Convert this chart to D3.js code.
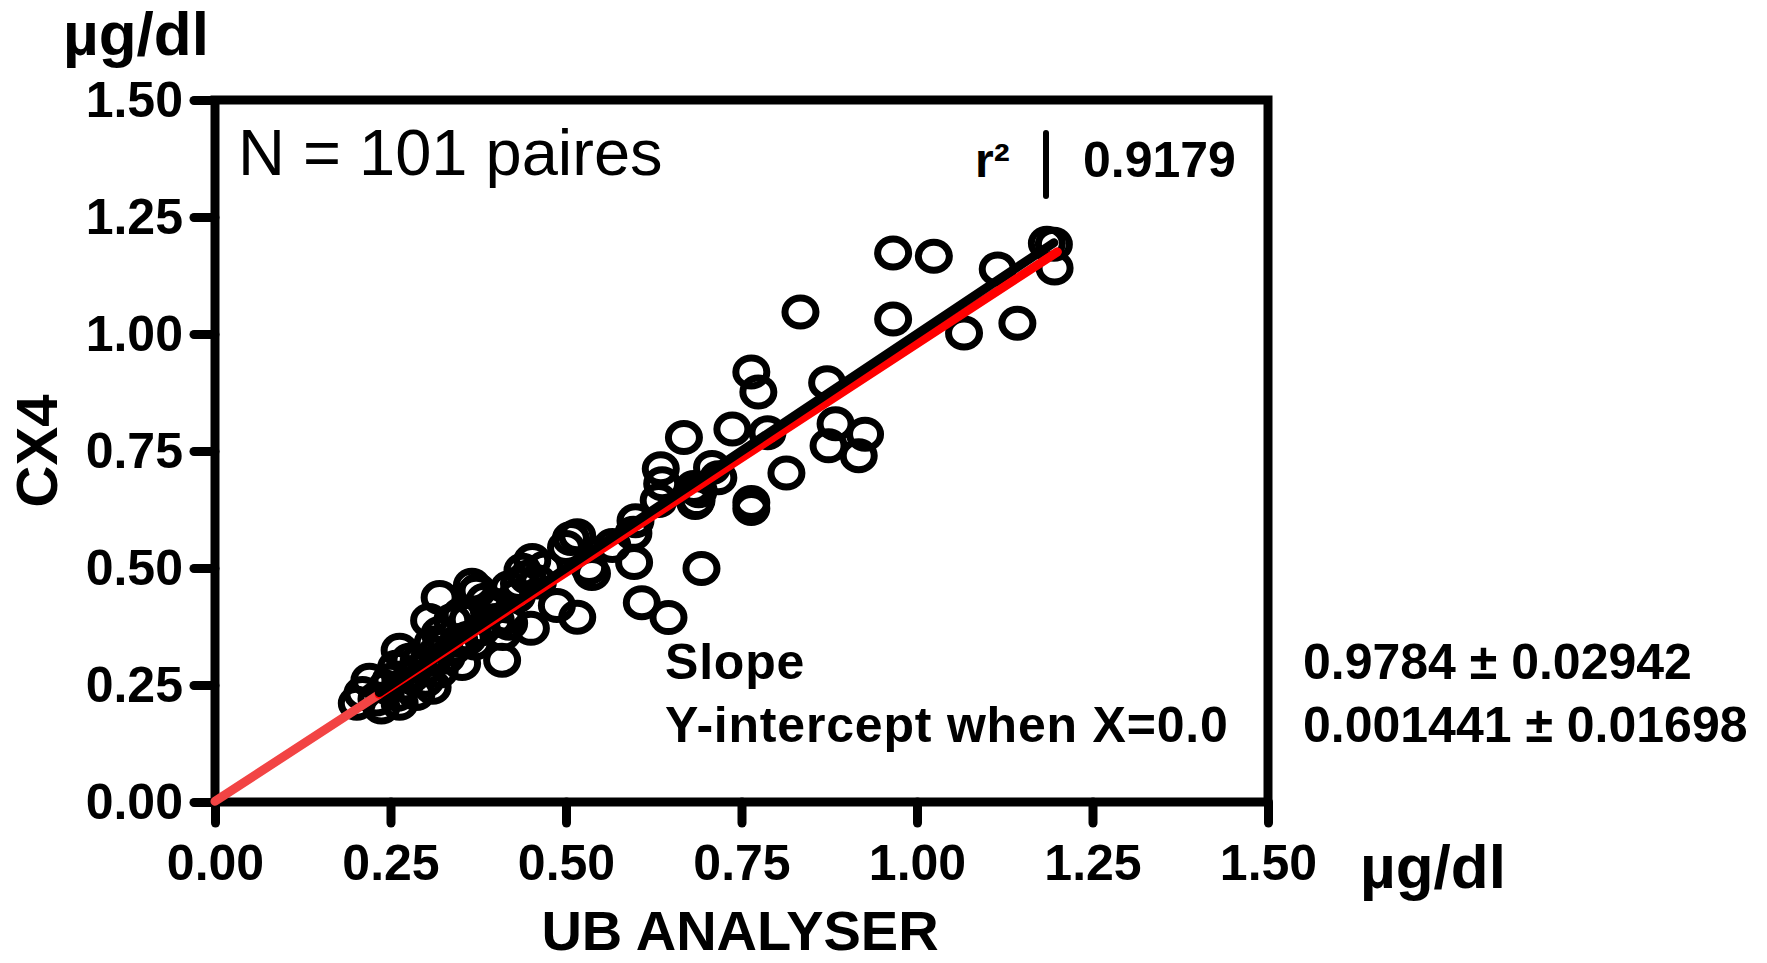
<!DOCTYPE html>
<html>
<head>
<meta charset="utf-8">
<script src="https://cdn.jsdelivr.net/npm/d3@7"></script>
<style>
  body { margin: 0; background: #fff; }
  svg { display: block; }
  text { font-family: "Liberation Sans", Arial, sans-serif; }
</style>
</head>
<body>
<div id="chart"></div>
<script>
// UB ANALYSER (x) vs CX4 (y), µg/dl - 101 paires
const ubAnalyser = [
  0.966, 1.024, 1.115, 1.195, 1.196, 1.185, 0.834, 0.966, 1.067, 1.143,
  0.764, 0.774, 0.872, 0.737, 0.787, 0.884, 0.874, 0.926, 0.917, 0.814,
  0.708, 0.717, 0.668, 0.682, 0.684, 0.764, 0.764, 0.693, 0.635, 0.637,
  0.632, 0.599, 0.596, 0.507, 0.516, 0.500, 0.566, 0.533, 0.597, 0.608,
  0.646, 0.452, 0.438, 0.419, 0.445, 0.487, 0.516, 0.450, 0.409, 0.419,
  0.537, 0.366, 0.374, 0.320, 0.384, 0.305, 0.400, 0.338, 0.320, 0.348,
  0.315, 0.352, 0.263, 0.277, 0.258, 0.220, 0.210, 0.202, 0.237, 0.263,
  0.287, 0.310, 0.244, 0.301, 0.415, 0.433, 0.686, 0.689, 0.230, 0.250,
  0.270, 0.280, 0.300, 0.290, 0.320, 0.330, 0.340, 0.360, 0.370, 0.380,
  0.350, 0.390, 0.400, 0.410, 0.430, 0.460, 0.470, 0.360, 0.310, 0.260,
  0.372
];
const cx4 = [
  1.173, 1.166, 1.139, 1.192, 1.141, 1.194, 1.047, 1.032, 1.002, 1.023,
  0.919, 0.876, 0.896, 0.797, 0.789, 0.808, 0.761, 0.786, 0.740, 0.703,
  0.715, 0.693, 0.779, 0.672, 0.640, 0.640, 0.627, 0.499, 0.712, 0.680,
  0.644, 0.601, 0.574, 0.563, 0.569, 0.544, 0.548, 0.501, 0.512, 0.426,
  0.394, 0.516, 0.495, 0.458, 0.480, 0.420, 0.395, 0.371, 0.303, 0.382,
  0.488, 0.463, 0.452, 0.437, 0.431, 0.388, 0.388, 0.388, 0.360, 0.345,
  0.318, 0.296, 0.324, 0.303, 0.288, 0.260, 0.232, 0.211, 0.203, 0.211,
  0.232, 0.245, 0.245, 0.288, 0.395, 0.467, 0.644, 0.665, 0.220, 0.260,
  0.250, 0.270, 0.260, 0.300, 0.280, 0.310, 0.330, 0.350, 0.340, 0.370,
  0.400, 0.410, 0.420, 0.360, 0.440, 0.470, 0.500, 0.390, 0.340, 0.230,
  0.448
];

const tickValues = [0, 0.25, 0.5, 0.75, 1.0, 1.25, 1.5];

// régression linéaire et droite d'identité
const fitSlope = 0.9784;
const fitIntercept = 0.001441;
const fitExtrapolated = [0, 0.234];
const fitMeasured = [0.234, 1.2];
const identityRange = [0.234, 1.195];

const statsLabels = ["Slope", "Y-intercept when X=0.0"];
const statsValues = ["0.9784 ± 0.02942", "0.001441 ± 0.01698"];
const r2Value = "0.9179";

const W = 1767, H = 963;
const margin = { top: 100, right: 499, bottom: 161, left: 215 };
const width = W - margin.left - margin.right;
const height = H - margin.top - margin.bottom;

const svg = d3.select("#chart").append("svg")
  .attr("width", W)
  .attr("height", H)
  .attr("viewBox", `0 0 ${W} ${H}`);

const g = svg.append("g")
  .attr("transform", `translate(${margin.left},${margin.top})`);

const x = d3.scaleLinear().domain([0, 1.5]).range([0, width]);
const y = d3.scaleLinear().domain([0, 1.5]).range([height, 0]);

const fmt = d3.format(".2f");

// axes
const xAxis = g.append("g")
  .attr("transform", `translate(0,${height})`)
  .call(d3.axisBottom(x).tickValues(tickValues).tickFormat(fmt).tickSize(21).tickPadding(21));
const yAxis = g.append("g")
  .call(d3.axisLeft(y).tickValues(tickValues).tickFormat(fmt).tickSize(21).tickPadding(11));

[xAxis, yAxis].forEach(ax => {
  ax.select(".domain").remove();
  ax.selectAll(".tick line")
    .attr("stroke", "#000")
    .attr("stroke-width", 9)
    .attr("stroke-linecap", "round");
  ax.selectAll(".tick text")
    .attr("fill", "#000")
    .style("font-size", "50px")
    .style("font-weight", "bold");
});

// cadre
g.append("rect")
  .attr("x", 0).attr("y", 0)
  .attr("width", width).attr("height", height)
  .attr("fill", "none")
  .attr("stroke", "#000")
  .attr("stroke-width", 9);

// points
const pts = ubAnalyser.map((d, i) => ({ x: d, y: cx4[i] }));
g.selectAll("ellipse.pt")
  .data(pts)
  .join("ellipse")
  .attr("class", "pt")
  .attr("cx", d => x(d.x))
  .attr("cy", d => y(d.y))
  .attr("rx", 15.5)
  .attr("ry", 14)
  .attr("fill", "none")
  .attr("stroke", "#000")
  .attr("stroke-width", 7);

const line = d3.line().x(d => x(d[0])).y(d => y(d[1]));
const fit = v => [v, fitSlope * v + fitIntercept];

g.append("path")
  .attr("d", line(fitExtrapolated.map(fit)))
  .attr("stroke", "#f24444")
  .attr("stroke-width", 9)
  .attr("stroke-linecap", "round")
  .attr("fill", "none");

g.append("path")
  .attr("d", line(fitMeasured.map(fit)))
  .attr("stroke", "#ff0000")
  .attr("stroke-width", 9)
  .attr("stroke-linecap", "round")
  .attr("fill", "none");

g.append("path")
  .attr("d", line(identityRange.map(v => [v, v])))
  .attr("stroke", "#000")
  .attr("stroke-width", 9)
  .attr("stroke-linecap", "round")
  .attr("fill", "none");

// textes
svg.append("text")
  .attr("x", 63).attr("y", 55)
  .style("font-size", "62px").style("font-weight", "bold")
  .text("µg/dl");

svg.append("text")
  .attr("x", 1360).attr("y", 888)
  .style("font-size", "62px").style("font-weight", "bold")
  .text("µg/dl");

svg.append("text")
  .attr("x", 740).attr("y", 950)
  .attr("text-anchor", "middle")
  .style("font-size", "56px").style("font-weight", "bold")
  .text("UB ANALYSER");

svg.append("text")
  .attr("transform", "translate(57,451) rotate(-90)")
  .attr("text-anchor", "middle")
  .style("font-size", "58px").style("font-weight", "bold")
  .text("CX4");

svg.append("text")
  .attr("x", 238).attr("y", 175)
  .style("font-size", "65px")
  .text("N = 101 paires");

svg.append("text")
  .attr("x", 975).attr("y", 177)
  .style("font-size", "48px").style("font-weight", "bold")
  .text("r²");

svg.append("line")
  .attr("x1", 1046).attr("x2", 1046)
  .attr("y1", 133).attr("y2", 196)
  .attr("stroke", "#000")
  .attr("stroke-width", 6)
  .attr("stroke-linecap", "round");

svg.append("text")
  .attr("x", 1083).attr("y", 177)
  .style("font-size", "50px").style("font-weight", "bold")
  .text(r2Value);

const rowsY = [679, 742];
statsLabels.forEach((t, i) => {
  svg.append("text")
    .attr("x", 665).attr("y", rowsY[i])
    .style("font-size", "50px").style("font-weight", "bold")
    .style("letter-spacing", "0.8px")
    .text(t);
});
statsValues.forEach((t, i) => {
  svg.append("text")
    .attr("x", 1303).attr("y", rowsY[i])
    .style("font-size", "50px").style("font-weight", "bold")
    .text(t);
});
</script>
</body>
</html>
